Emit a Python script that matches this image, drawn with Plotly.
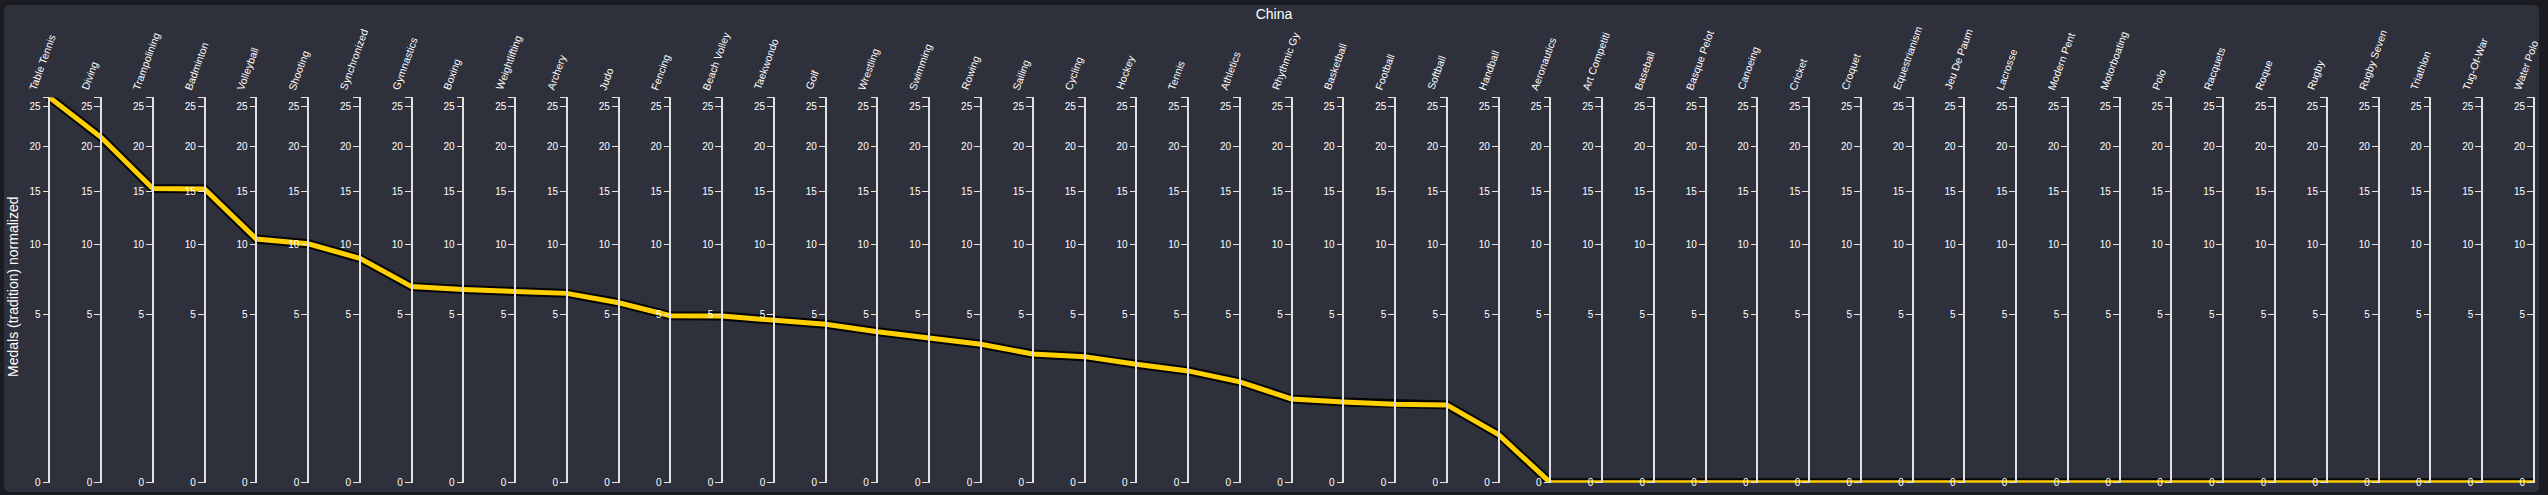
import numpy as np
import plotly.graph_objects as go

# ---------------- data ----------------
sports = ["Table Tennis", "Diving", "Trampolining", "Badminton", "Volleyball", "Shooting",
          "Synchronized", "Gymnastics", "Boxing", "Weightlifting", "Archery", "Judo",
          "Fencing", "Beach Volley", "Taekwondo", "Golf", "Wrestling", "Swimming", "Rowing",
          "Sailing", "Cycling", "Hockey", "Tennis", "Athletics", "Rhythmic Gy", "Basketball",
          "Football", "Softball", "Handball", "Aeronautics", "Art Competiti", "Baseball",
          "Basque Pelot", "Canoeing", "Cricket", "Croquet", "Equestrianism", "Jeu De Paum",
          "Lacrosse", "Modern Pent", "Motorboating", "Polo", "Racquets", "Roque", "Rugby",
          "Rugby Seven", "Triathlon", "Tug-Of-War", "Water Polo"]
medals_china = [26.27, 21.1, 15.3, 15.25, 10.5, 10.1, 8.9, 6.8, 6.6, 6.47, 6.34, 5.73,
                4.93, 4.91, 4.66, 4.44, 4.03, 3.69, 3.39, 2.93, 2.81, 2.48, 2.21, 1.80,
                1.24, 1.15, 1.09, 1.07, 0.41, 0, 0, 0, 0, 0, 0, 0, 0, 0, 0, 0, 0, 0, 0,
                0, 0, 0, 0, 0, 0]
tick_values = [0, 5, 10, 15, 20, 25]
tick_labels = ["0", "5", "10", "15", "20", "25"]
country = "China"
y_title = "Medals (tradition) normalized"

# ---------------- layout constants ----------------
W, H = 2548, 495
n = len(sports)
first_px, step_px = 49.3, 51.76
r0 = -first_px / step_px
r1 = r0 + W / step_px
y_bottom_px, y_top_px = 482.7, 97.3
ydom = [1 - y_bottom_px / H, 1 - y_top_px / H]
ymax = max(medals_china)
yrange = [0, np.sqrt(ymax)]   # sqrt scale

idx = list(range(n))
ysq = np.sqrt(np.array(medals_china, dtype=float))

fig = go.Figure()
# empty traces so that every per-dimension axis gets its own subplot
for i in range(1, n):
    fig.add_trace(go.Scatter(x=[None], y=[None], xaxis="x", yaxis=f"y{i + 1}",
                             mode="lines", hoverinfo="skip", showlegend=False))
fig.add_trace(go.Scatter(x=idx, y=ysq, mode="lines",
                         line=dict(color="#050505", width=9),
                         hoverinfo="skip", showlegend=False))
fig.add_trace(go.Scatter(x=idx, y=ysq, mode="lines",
                         line=dict(color="#FFD000", width=5),
                         text=sports, customdata=medals_china,
                         hovertemplate="%{text}: %{customdata}<extra></extra>",
                         showlegend=False))

tv = [float(np.sqrt(t)) for t in tick_values] + [float(np.sqrt(ymax))]
tt = tick_labels + [""]

layout = dict(
    width=W, height=H,
    margin=dict(l=0, r=0, t=0, b=0, autoexpand=False),
    paper_bgcolor="#1b1c21",
    plot_bgcolor="rgba(0,0,0,0)",
    showlegend=False,
    xaxis=dict(domain=[0, 1], range=[r0, r1], visible=False, fixedrange=True),
    title=dict(text=country, x=0.5, xanchor="center", y=1 - 14 / H, yanchor="middle",
               yref="container", font=dict(family="Liberation Sans, Arial", size=14, color="#ffffff")),
)

for i in range(n):
    pos = (i - r0) / (r1 - r0)
    ax = dict(domain=ydom, range=yrange, anchor="free", position=pos, side="left",
              showline=True, linecolor="#e2e2e2", linewidth=1.5,
              ticks="outside", ticklen=6, tickwidth=1.3, tickcolor="#e2e2e2",
              tickvals=tv, ticktext=tt, showgrid=False, zeroline=False,
              tickfont=dict(family="Liberation Sans, Arial", size=10, color="#ffffff"),
              fixedrange=True, automargin=False)
    if i == 0:
        layout["yaxis"] = ax
    else:
        ax["overlaying"] = "y"
        layout[f"yaxis{i + 1}"] = ax

fig.update_layout(**layout)

# panel with rounded corners
x0p, x1p, y0p, y1p, rr = 4 / W, 2539 / W, 1 - 492 / H, 1 - 5 / H, 6
rx, ry = rr / W, rr / H
path = (f"M {x0p + rx} {y1p} L {x1p - rx} {y1p} Q {x1p} {y1p} {x1p} {y1p - ry} "
        f"L {x1p} {y0p + ry} Q {x1p} {y0p} {x1p - rx} {y0p} L {x0p + rx} {y0p} "
        f"Q {x0p} {y0p} {x0p} {y0p + ry} L {x0p} {y1p - ry} Q {x0p} {y1p} {x0p + rx} {y1p} Z")
fig.add_shape(type="path", path=path, xref="paper", yref="paper",
              fillcolor="#2e303c", line=dict(width=0), layer="below")

# rotated dimension labels
for i, name in enumerate(sports):
    fig.add_annotation(x=i, xref="x", y=1 - 94 / H, yref="paper",
                       text=name, showarrow=False, textangle=-70,
                       xanchor="left", yanchor="bottom", xshift=-25,
                       font=dict(family="Liberation Sans, Arial", size=10.5, color="#ffffff"))

# y title
fig.add_annotation(x=13 / W, xref="paper", y=1 - 287 / H, yref="paper",
                   text=y_title, showarrow=False, textangle=-90,
                   xanchor="center", yanchor="middle",
                   font=dict(family="Liberation Sans, Arial", size=14, color="#ffffff"))

fig.write_html("out.html",
               config=dict(displayModeBar=False),
               post_script="document.body.style.margin='0';document.body.style.background='#1b1c21';"
                           "document.body.style.overflow='hidden';")
